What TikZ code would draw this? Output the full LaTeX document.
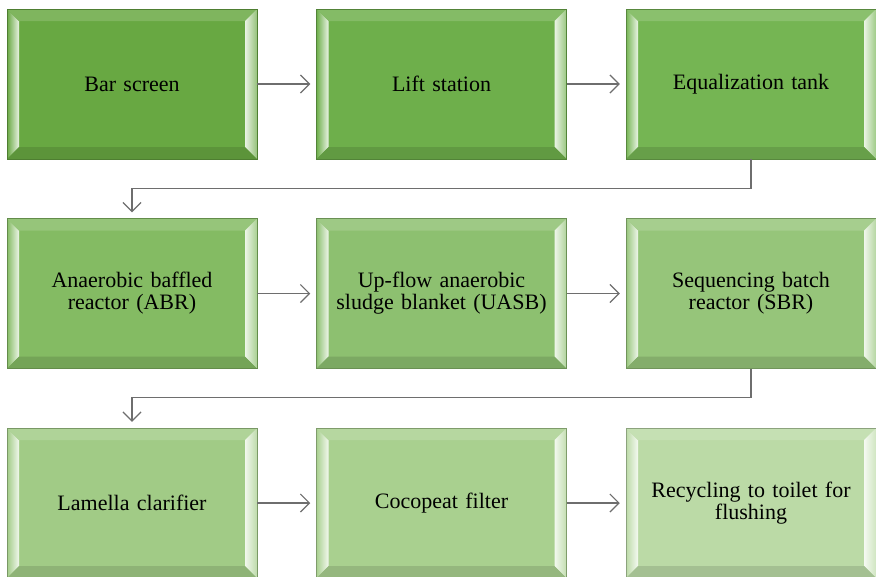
\documentclass[tikz,border=0pt]{standalone}
\usepackage{fontspec}
\setmainfont{Liberation Serif}
\usetikzlibrary{positioning,calc,arrows.meta}

\definecolor{gA}{HTML}{68A842}
\definecolor{gB}{HTML}{6EAF4B}
\definecolor{gC}{HTML}{75B553}
\definecolor{gD}{HTML}{84BB63}
\definecolor{gE}{HTML}{8DC070}
\definecolor{gF}{HTML}{96C57A}
\definecolor{gG}{HTML}{A1CB86}
\definecolor{gH}{HTML}{A9D08F}
\definecolor{gI}{HTML}{BBDAA6}
\definecolor{arrowgray}{HTML}{6E6E6E}

\begin{document}
\begin{tikzpicture}[
  x=1pt, y=1pt,
  >={Straight Barb[length=9pt,width=18pt]},
  node distance=59pt and 59pt,
  stage/.style={rectangle, draw=#1!75!black, line width=0.5pt, fill=#1,
                minimum width=250pt, minimum height=150pt, inner sep=0pt,
                align=center, text width=235pt,
                font=\fontsize{22}{22}\selectfont,
                path picture={
                  \path (path picture bounding box.south west) coordinate (bl)
                        (path picture bounding box.north east) coordinate (tr);
                  % bevel edges
                  \shade[left color=#1, right color=#1!15!white]
                    (bl) -- (bl|-tr) -- ($(bl|-tr)+(12,-12)$) -- ($(bl)+(12,12)$) -- cycle;
                  \fill[#1!85!white]
                    (bl|-tr) -- (tr) -- ($(tr)+(-12,-12)$) -- ($(bl|-tr)+(12,-12)$) -- cycle;
                  \shade[left color=#1!15!white, right color=#1!70!white]
                    (tr) -- (tr|-bl) -- ($(tr|-bl)+(-12,12)$) -- ($(tr)+(-12,-12)$) -- cycle;
                  \fill[#1!88!black]
                    (bl) -- (tr|-bl) -- ($(tr|-bl)+(-12,12)$) -- ($(bl)+(12,12)$) -- cycle;
                }},
  flow/.style={->, draw=arrowgray, line width=1.2pt, shorten >=6pt}
]
\useasboundingbox (0,0) rectangle (876,-576);

\node[stage=gA] (bar) at (132,-84) {Bar screen};
\node[stage=gB, right=of bar] (lift) {Lift station};
\node[stage=gC, right=of lift] (eq) {Equalization tank};
\node[stage=gD, below=of bar] (abr) {Anaerobic baffled\\ reactor (ABR)};
\node[stage=gE, right=of abr] (uasb) {Up-flow anaerobic\\ sludge blanket (UASB)};
\node[stage=gF, right=of uasb] (sbr) {Sequencing batch\\ reactor (SBR)};
\node[stage=gG, below=of abr] (lam) {Lamella clarifier};
\node[stage=gH, right=of lam] (coco) {Cocopeat filter};
\node[stage=gI, right=of coco] (recy) {Recycling to toilet for\\ flushing\\[6pt]};

\draw[flow] (bar) -- (lift);
\draw[flow] (lift) -- (eq);
\draw[flow] (eq.south) -- ++(0,-29) -| (abr.north);
\draw[flow] (abr) -- (uasb);
\draw[flow] (uasb) -- (sbr);
\draw[flow] (sbr.south) -- ++(0,-29) -| (lam.north);
\draw[flow] (lam) -- (coco);
\draw[flow] (coco) -- (recy);

\end{tikzpicture}
\end{document}
